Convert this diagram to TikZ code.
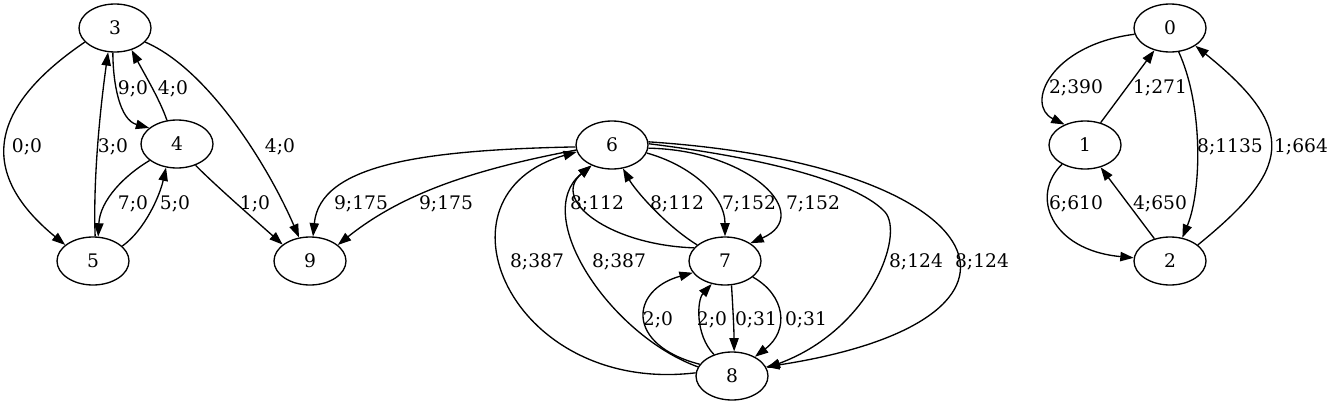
\documentclass[tikz,border=0pt]{standalone}
\usepackage{fontspec}
\setmainfont{DejaVu Serif}
\usetikzlibrary{shapes.geometric}
\usetikzlibrary{arrows.meta}

\begin{document}
\begin{tikzpicture}[
x=0.75pt,y=0.75pt,
state/.style={
	% The shape:
	ellipse,
	% The size:
	minimum width=54pt,minimum height=36pt,inner sep=0pt,
	% The border:
	draw=black},
weight/.style={
	% sits on the baseline
	anchor=base,inner sep=0pt},
every node/.style={font=\fontsize{14pt}{16pt}\selectfont},
>={Triangle[length=10pt,width=7pt]},
line width=1pt,
]
\useasboundingbox (0,0) rectangle (1334,-407);

% the states
\node (n3) [state] at (115,-28) {3};
\node (n4) [state] at (177,-144) {4};
\node (n5) [state] at (93,-261) {5};
\node (n9) [state] at (310,-261) {9};
\node (n6) [state] at (612,-145) {6};
\node (n7) [state] at (725,-261) {7};
\node (n8) [state] at (732,-376) {8};
\node (n0) [state] at (1170,-28) {0};
\node (n1) [state] at (1085,-145) {1};
\node (n2) [state] at (1170,-261) {2};

% left part
\draw[->] (n3.205) .. controls (-15,-110) and (-20,-175) .. (n5.150);
\draw[->] (n5.85) .. controls (93,-180) and (100,-110) .. (n3.254);
\draw[->] (n3.265) .. controls (113,-85) and (120,-120) .. (n4.150);
\draw[->] (n4.113) .. controls (160,-100) and (145,-75) .. (n3.307);
\draw[->] (n4.211) .. controls (125,-175) and (100,-200) .. (n5.78);
\draw[->] (n5.27) .. controls (145,-230) and (160,-195) .. (n4.245);
\draw[->] (n4.311) .. controls (215,-185) and (255,-220) .. (n9.149);
\draw[->] (n3.335) .. controls (210,-70) and (270,-170) .. (n9.115);
\node (w35) [weight] at (27,-152) {0;0};
\node (w53) [weight] at (113,-152) {3;0};
\node (w34) [weight] at (133,-94) {9;0};
\node (w43) [weight] at (173,-94) {4;0};
\node (w45) [weight] at (133,-209) {7;0};
\node (w54) [weight] at (175,-209) {5;0};
\node (w49) [weight] at (255,-209) {1;0};
\node (w39) [weight] at (280,-152) {4;0};

% middle part
\draw[->] (n6.183) .. controls (420,-150) and (320,-165) .. (n9.83);
\draw[->] (n6.188) .. controls (470,-170) and (400,-195) .. (n9.30);
\draw[->] (n7.157) .. controls (610,-245) and (550,-200) .. (n6.225);
\draw[->] (n7.150) .. controls (665,-225) and (635,-190) .. (n6.295);
\draw[->] (n6.347) .. controls (690,-165) and (725,-195) .. (n7.90);
\draw[->] (n6.355) .. controls (750,-150) and (815,-215) .. (n7.35);
\draw[->] (n8.175) .. controls (510,-395) and (425,-195) .. (n6.191);
\draw[->] (n8.165) .. controls (610,-335) and (530,-215) .. (n6.225);
\draw[->] (n6.2) .. controls (780,-160) and (860,-185) .. (885,-212)
	.. controls (905,-235) and (870,-330) .. (n8.13);
\draw[->] (n6.5) .. controls (1000,-165) and (1070,-320) .. (n8.15);
\draw[->] (n8.160) .. controls (625,-345) and (630,-290) .. (n7.200);
\draw[->] (n8.130) .. controls (695,-335) and (697,-300) .. (n7.240);
\draw[->] (n7.-75) .. controls (733,-310) and (734,-330) .. (n8.85);
\draw[->] (n7.-30) .. controls (785,-295) and (790,-330) .. (n8.40);
\node (w69a) [weight] at (361,-209) {9;175};
\node (w69b) [weight] at (446,-209) {9;175};
\node (w76a) [weight] at (597,-209) {8;112};
\node (w76b) [weight] at (677,-209) {8;112};
\node (w67a) [weight] at (749,-209) {7;152};
\node (w67b) [weight] at (813,-209) {7;152};
\node (w86a) [weight] at (537,-267) {8;387};
\node (w86b) [weight] at (619,-267) {8;387};
\node (w68a) [weight] at (916,-267) {8;124};
\node (w68b) [weight] at (982,-267) {8;124};
\node (w87a) [weight] at (658,-325) {2;0};
\node (w87b) [weight] at (712,-325) {2;0};
\node (w78a) [weight] at (756,-325) {0;31};
\node (w78b) [weight] at (806,-325) {0;31};

% right part
\draw[->] (n0.190) .. controls (1050,-45) and (1025,-105) .. (n1.135);
\draw[->] (n1.55) -- (n0.235);
\draw[->] (n0.290) .. controls (1203,-105) and (1202,-190) .. (n2.62);
\draw[->] (n2.30) .. controls (1290,-170) and (1300,-130) .. (n0.-35);
\draw[->] (n1.220) .. controls (1030,-195) and (1050,-250) .. (n2.175);
\draw[->] (n2.125) -- (n1.-55);
\node (w01) [weight] at (1076,-93) {2;390};
\node (w10) [weight] at (1160,-93) {1;271};
\node (w02) [weight] at (1230,-152) {8;1135};
\node (w20) [weight] at (1301,-152) {1;664};
\node (w12) [weight] at (1076,-209) {6;610};
\node (w21) [weight] at (1160,-209) {4;650};

\end{tikzpicture}
\end{document}
